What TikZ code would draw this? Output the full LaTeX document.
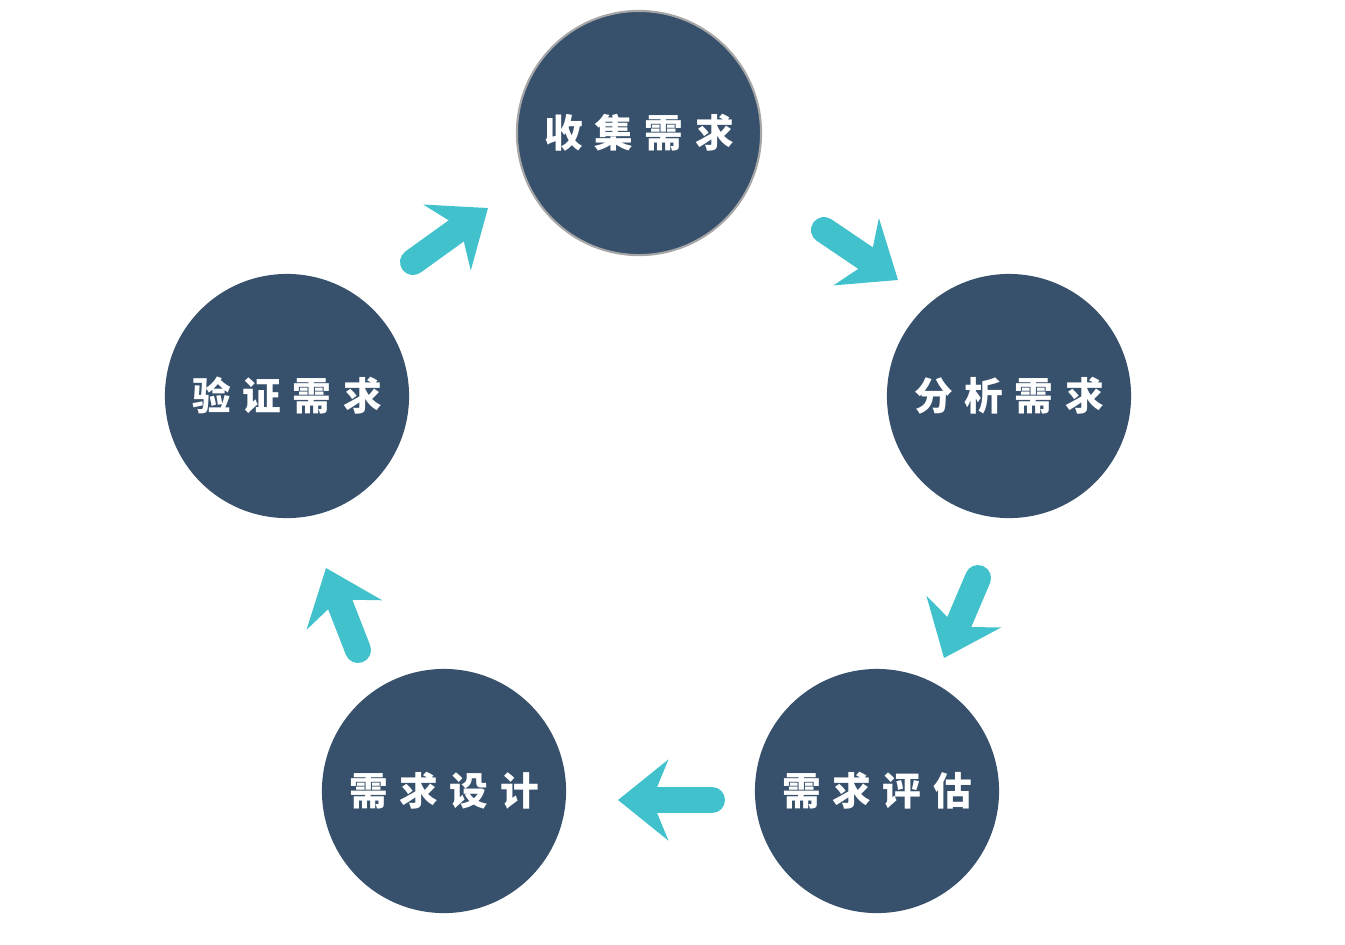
\documentclass[tikz,border=0pt]{standalone}
\usepackage{fontspec}
\newfontfamily\cjk[LetterSpace=30]{Noto Sans CJK SC}
\usetikzlibrary{arrows.meta}
\definecolor{stepblue}{HTML}{37506B}
\definecolor{flowteal}{HTML}{40C1CB}
\begin{document}
\begin{tikzpicture}[x=0.01cm, y=-0.01cm]
\tikzstyle{every node} = [circle, minimum size = 2.44cm, fill=stepblue, text=white, font=\cjk\fontsize{11}{13}\selectfont\bfseries]
\tikzstyle{flow} = [draw=flowteal, line width=2.6mm, line cap=round, -{Stealth[length=5mm, width=8mm]}]
\useasboundingbox (0,0) rectangle (1345,944);
\node[draw=gray!70, line width=0.6pt] (collect) at (639,133) {收集需求};
\node (analyse) at (1009,396) {分析需求};
\node (assess) at (877,791) {需求评估};
\node (design) at (444,791) {需求设计};
\node (verify) at (287,396) {验证需求};
\coordinate (a1) at (413,262); \coordinate (b1) at (488,208);
\coordinate (a2) at (824,230); \coordinate (b2) at (898,280);
\coordinate (a3) at (978,578); \coordinate (b3) at (944,658);
\coordinate (a4) at (712,800); \coordinate (b4) at (618,800);
\coordinate (a5) at (358,650); \coordinate (b5) at (326,568);
\foreach \from/\to in {a1/b1, a2/b2, a3/b3, a4/b4, a5/b5}
\draw [flow] (\from) -- (\to);
\end{tikzpicture}
\end{document}
